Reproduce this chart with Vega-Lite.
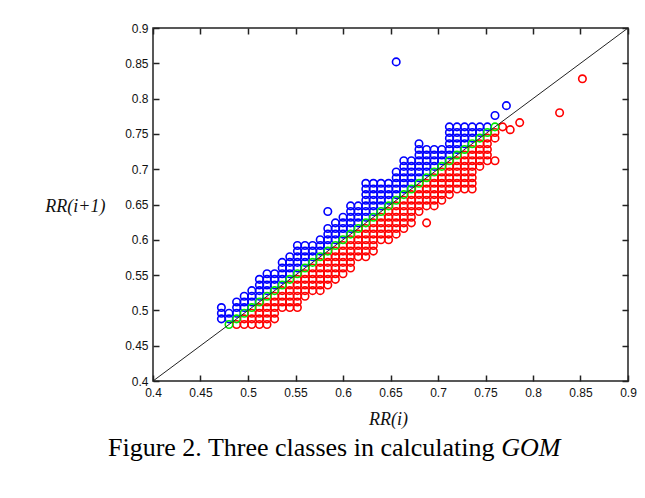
{
"$schema": "https://vega.github.io/schema/vega-lite/v6.json",
"width": 475, "height": 353,
"autosize": {"type": "none"},
"padding": {"left": 153, "top": 28, "right": 17, "bottom": 117},
"background": "white",
"config": {
  "view": {"stroke": "#222", "strokeWidth": 1.5},
  "axis": {"labelFont": "Liberation Sans", "labelFontSize": 12, "labelColor": "#111", "labelFlush": false, "labelOverlap": false,
           "ticks": true, "tickColor": "#222", "tickWidth": 1.5, "tickSize": 6, "offset": -6, "domain": false, "grid": false, "zindex": 2,
           "titleFont": "Liberation Serif", "titleFontStyle": "italic", "titleFontWeight": "normal", "titleFontSize": 18, "titleColor": "#111"}
},
"layer": [
{
 "data": {"values": [
{"x":0.472,"y":0.488,"c":"B"},{"x":0.472,"y":0.496,"c":"B"},{"x":0.472,"y":0.504,"c":"B"},
{"x":0.48,"y":0.488,"c":"B"},{"x":0.48,"y":0.496,"c":"B"},
{"x":0.488,"y":0.496,"c":"B"},{"x":0.488,"y":0.504,"c":"B"},{"x":0.488,"y":0.512,"c":"B"},
{"x":0.496,"y":0.504,"c":"B"},{"x":0.496,"y":0.512,"c":"B"},{"x":0.496,"y":0.52,"c":"B"},
{"x":0.504,"y":0.512,"c":"B"},{"x":0.504,"y":0.52,"c":"B"},{"x":0.504,"y":0.528,"c":"B"},
{"x":0.512,"y":0.52,"c":"B"},{"x":0.512,"y":0.528,"c":"B"},{"x":0.512,"y":0.536,"c":"B"},{"x":0.512,"y":0.544,"c":"B"},
{"x":0.52,"y":0.528,"c":"B"},{"x":0.52,"y":0.536,"c":"B"},{"x":0.52,"y":0.544,"c":"B"},{"x":0.52,"y":0.552,"c":"B"},
{"x":0.528,"y":0.536,"c":"B"},{"x":0.528,"y":0.544,"c":"B"},{"x":0.528,"y":0.552,"c":"B"},
{"x":0.536,"y":0.544,"c":"B"},{"x":0.536,"y":0.552,"c":"B"},{"x":0.536,"y":0.56,"c":"B"},{"x":0.536,"y":0.568,"c":"B"},
{"x":0.544,"y":0.552,"c":"B"},{"x":0.544,"y":0.56,"c":"B"},{"x":0.544,"y":0.568,"c":"B"},{"x":0.544,"y":0.576,"c":"B"},
{"x":0.552,"y":0.56,"c":"B"},{"x":0.552,"y":0.568,"c":"B"},{"x":0.552,"y":0.576,"c":"B"},{"x":0.552,"y":0.584,"c":"B"},{"x":0.552,"y":0.592,"c":"B"},
{"x":0.56,"y":0.568,"c":"B"},{"x":0.56,"y":0.576,"c":"B"},{"x":0.56,"y":0.584,"c":"B"},{"x":0.56,"y":0.592,"c":"B"},
{"x":0.568,"y":0.576,"c":"B"},{"x":0.568,"y":0.584,"c":"B"},{"x":0.568,"y":0.592,"c":"B"},
{"x":0.576,"y":0.584,"c":"B"},{"x":0.576,"y":0.592,"c":"B"},{"x":0.576,"y":0.6,"c":"B"},
{"x":0.584,"y":0.592,"c":"B"},{"x":0.584,"y":0.6,"c":"B"},{"x":0.584,"y":0.608,"c":"B"},{"x":0.584,"y":0.616,"c":"B"},{"x":0.584,"y":0.64,"c":"B"},
{"x":0.592,"y":0.6,"c":"B"},{"x":0.592,"y":0.608,"c":"B"},{"x":0.592,"y":0.616,"c":"B"},{"x":0.592,"y":0.624,"c":"B"},
{"x":0.6,"y":0.608,"c":"B"},{"x":0.6,"y":0.616,"c":"B"},{"x":0.6,"y":0.624,"c":"B"},{"x":0.6,"y":0.632,"c":"B"},
{"x":0.608,"y":0.616,"c":"B"},{"x":0.608,"y":0.624,"c":"B"},{"x":0.608,"y":0.632,"c":"B"},{"x":0.608,"y":0.64,"c":"B"},{"x":0.608,"y":0.648,"c":"B"},
{"x":0.616,"y":0.624,"c":"B"},{"x":0.616,"y":0.632,"c":"B"},{"x":0.616,"y":0.64,"c":"B"},{"x":0.616,"y":0.648,"c":"B"},
{"x":0.624,"y":0.632,"c":"B"},{"x":0.624,"y":0.64,"c":"B"},{"x":0.624,"y":0.648,"c":"B"},{"x":0.624,"y":0.656,"c":"B"},{"x":0.624,"y":0.664,"c":"B"},{"x":0.624,"y":0.672,"c":"B"},{"x":0.624,"y":0.68,"c":"B"},
{"x":0.632,"y":0.64,"c":"B"},{"x":0.632,"y":0.648,"c":"B"},{"x":0.632,"y":0.656,"c":"B"},{"x":0.632,"y":0.664,"c":"B"},{"x":0.632,"y":0.672,"c":"B"},{"x":0.632,"y":0.68,"c":"B"},
{"x":0.64,"y":0.648,"c":"B"},{"x":0.64,"y":0.656,"c":"B"},{"x":0.64,"y":0.664,"c":"B"},{"x":0.64,"y":0.672,"c":"B"},{"x":0.64,"y":0.68,"c":"B"},
{"x":0.648,"y":0.656,"c":"B"},{"x":0.648,"y":0.664,"c":"B"},{"x":0.648,"y":0.672,"c":"B"},{"x":0.648,"y":0.68,"c":"B"},
{"x":0.656,"y":0.664,"c":"B"},{"x":0.656,"y":0.672,"c":"B"},{"x":0.656,"y":0.68,"c":"B"},{"x":0.656,"y":0.688,"c":"B"},{"x":0.656,"y":0.696,"c":"B"},{"x":0.656,"y":0.852,"c":"B"},
{"x":0.664,"y":0.672,"c":"B"},{"x":0.664,"y":0.68,"c":"B"},{"x":0.664,"y":0.688,"c":"B"},{"x":0.664,"y":0.696,"c":"B"},{"x":0.664,"y":0.704,"c":"B"},{"x":0.664,"y":0.712,"c":"B"},
{"x":0.672,"y":0.68,"c":"B"},{"x":0.672,"y":0.688,"c":"B"},{"x":0.672,"y":0.696,"c":"B"},{"x":0.672,"y":0.704,"c":"B"},{"x":0.672,"y":0.712,"c":"B"},
{"x":0.68,"y":0.688,"c":"B"},{"x":0.68,"y":0.696,"c":"B"},{"x":0.68,"y":0.704,"c":"B"},{"x":0.68,"y":0.712,"c":"B"},{"x":0.68,"y":0.72,"c":"B"},{"x":0.68,"y":0.728,"c":"B"},{"x":0.68,"y":0.736,"c":"B"},
{"x":0.688,"y":0.696,"c":"B"},{"x":0.688,"y":0.704,"c":"B"},{"x":0.688,"y":0.712,"c":"B"},{"x":0.688,"y":0.72,"c":"B"},{"x":0.688,"y":0.728,"c":"B"},
{"x":0.696,"y":0.704,"c":"B"},{"x":0.696,"y":0.712,"c":"B"},{"x":0.696,"y":0.72,"c":"B"},{"x":0.696,"y":0.728,"c":"B"},
{"x":0.704,"y":0.712,"c":"B"},{"x":0.704,"y":0.72,"c":"B"},{"x":0.704,"y":0.728,"c":"B"},
{"x":0.712,"y":0.72,"c":"B"},{"x":0.712,"y":0.728,"c":"B"},{"x":0.712,"y":0.736,"c":"B"},{"x":0.712,"y":0.744,"c":"B"},{"x":0.712,"y":0.752,"c":"B"},{"x":0.712,"y":0.76,"c":"B"},
{"x":0.72,"y":0.728,"c":"B"},{"x":0.72,"y":0.736,"c":"B"},{"x":0.72,"y":0.744,"c":"B"},{"x":0.72,"y":0.752,"c":"B"},{"x":0.72,"y":0.76,"c":"B"},
{"x":0.728,"y":0.736,"c":"B"},{"x":0.728,"y":0.744,"c":"B"},{"x":0.728,"y":0.752,"c":"B"},{"x":0.728,"y":0.76,"c":"B"},
{"x":0.736,"y":0.744,"c":"B"},{"x":0.736,"y":0.752,"c":"B"},{"x":0.736,"y":0.76,"c":"B"},
{"x":0.744,"y":0.752,"c":"B"},{"x":0.744,"y":0.76,"c":"B"},
{"x":0.752,"y":0.76,"c":"B"},
{"x":0.76,"y":0.776,"c":"B"},{"x":0.772,"y":0.79,"c":"B"},
{"x":0.488,"y":0.48,"c":"R"},
{"x":0.496,"y":0.488,"c":"R"},{"x":0.496,"y":0.48,"c":"R"},
{"x":0.504,"y":0.496,"c":"R"},{"x":0.504,"y":0.488,"c":"R"},{"x":0.504,"y":0.48,"c":"R"},
{"x":0.512,"y":0.504,"c":"R"},{"x":0.512,"y":0.496,"c":"R"},{"x":0.512,"y":0.488,"c":"R"},{"x":0.512,"y":0.48,"c":"R"},
{"x":0.52,"y":0.512,"c":"R"},{"x":0.52,"y":0.504,"c":"R"},{"x":0.52,"y":0.496,"c":"R"},{"x":0.52,"y":0.488,"c":"R"},{"x":0.52,"y":0.48,"c":"R"},
{"x":0.528,"y":0.52,"c":"R"},{"x":0.528,"y":0.512,"c":"R"},{"x":0.528,"y":0.504,"c":"R"},{"x":0.528,"y":0.496,"c":"R"},{"x":0.528,"y":0.488,"c":"R"},
{"x":0.536,"y":0.528,"c":"R"},{"x":0.536,"y":0.52,"c":"R"},{"x":0.536,"y":0.512,"c":"R"},{"x":0.536,"y":0.504,"c":"R"},
{"x":0.544,"y":0.536,"c":"R"},{"x":0.544,"y":0.528,"c":"R"},{"x":0.544,"y":0.52,"c":"R"},{"x":0.544,"y":0.512,"c":"R"},{"x":0.544,"y":0.504,"c":"R"},
{"x":0.552,"y":0.544,"c":"R"},{"x":0.552,"y":0.536,"c":"R"},{"x":0.552,"y":0.528,"c":"R"},{"x":0.552,"y":0.52,"c":"R"},{"x":0.552,"y":0.512,"c":"R"},{"x":0.552,"y":0.504,"c":"R"},
{"x":0.56,"y":0.552,"c":"R"},{"x":0.56,"y":0.544,"c":"R"},{"x":0.56,"y":0.536,"c":"R"},{"x":0.56,"y":0.528,"c":"R"},{"x":0.56,"y":0.52,"c":"R"},
{"x":0.568,"y":0.56,"c":"R"},{"x":0.568,"y":0.552,"c":"R"},{"x":0.568,"y":0.544,"c":"R"},{"x":0.568,"y":0.536,"c":"R"},{"x":0.568,"y":0.528,"c":"R"},
{"x":0.576,"y":0.568,"c":"R"},{"x":0.576,"y":0.56,"c":"R"},{"x":0.576,"y":0.552,"c":"R"},{"x":0.576,"y":0.544,"c":"R"},{"x":0.576,"y":0.536,"c":"R"},{"x":0.576,"y":0.528,"c":"R"},
{"x":0.584,"y":0.576,"c":"R"},{"x":0.584,"y":0.568,"c":"R"},{"x":0.584,"y":0.56,"c":"R"},{"x":0.584,"y":0.552,"c":"R"},{"x":0.584,"y":0.544,"c":"R"},{"x":0.584,"y":0.536,"c":"R"},
{"x":0.592,"y":0.584,"c":"R"},{"x":0.592,"y":0.576,"c":"R"},{"x":0.592,"y":0.568,"c":"R"},{"x":0.592,"y":0.56,"c":"R"},{"x":0.592,"y":0.552,"c":"R"},{"x":0.592,"y":0.544,"c":"R"},
{"x":0.6,"y":0.592,"c":"R"},{"x":0.6,"y":0.584,"c":"R"},{"x":0.6,"y":0.576,"c":"R"},{"x":0.6,"y":0.568,"c":"R"},{"x":0.6,"y":0.56,"c":"R"},{"x":0.6,"y":0.552,"c":"R"},
{"x":0.608,"y":0.6,"c":"R"},{"x":0.608,"y":0.592,"c":"R"},{"x":0.608,"y":0.584,"c":"R"},{"x":0.608,"y":0.576,"c":"R"},{"x":0.608,"y":0.568,"c":"R"},{"x":0.608,"y":0.56,"c":"R"},
{"x":0.616,"y":0.608,"c":"R"},{"x":0.616,"y":0.6,"c":"R"},{"x":0.616,"y":0.592,"c":"R"},{"x":0.616,"y":0.584,"c":"R"},{"x":0.616,"y":0.576,"c":"R"},
{"x":0.624,"y":0.616,"c":"R"},{"x":0.624,"y":0.608,"c":"R"},{"x":0.624,"y":0.6,"c":"R"},{"x":0.624,"y":0.592,"c":"R"},{"x":0.624,"y":0.584,"c":"R"},{"x":0.624,"y":0.576,"c":"R"},
{"x":0.632,"y":0.624,"c":"R"},{"x":0.632,"y":0.616,"c":"R"},{"x":0.632,"y":0.608,"c":"R"},{"x":0.632,"y":0.6,"c":"R"},{"x":0.632,"y":0.592,"c":"R"},{"x":0.632,"y":0.584,"c":"R"},
{"x":0.64,"y":0.632,"c":"R"},{"x":0.64,"y":0.624,"c":"R"},{"x":0.64,"y":0.616,"c":"R"},{"x":0.64,"y":0.608,"c":"R"},{"x":0.64,"y":0.6,"c":"R"},
{"x":0.648,"y":0.64,"c":"R"},{"x":0.648,"y":0.632,"c":"R"},{"x":0.648,"y":0.624,"c":"R"},{"x":0.648,"y":0.616,"c":"R"},{"x":0.648,"y":0.608,"c":"R"},{"x":0.648,"y":0.6,"c":"R"},
{"x":0.656,"y":0.648,"c":"R"},{"x":0.656,"y":0.64,"c":"R"},{"x":0.656,"y":0.632,"c":"R"},{"x":0.656,"y":0.624,"c":"R"},{"x":0.656,"y":0.616,"c":"R"},{"x":0.656,"y":0.608,"c":"R"},
{"x":0.664,"y":0.656,"c":"R"},{"x":0.664,"y":0.648,"c":"R"},{"x":0.664,"y":0.64,"c":"R"},{"x":0.664,"y":0.632,"c":"R"},{"x":0.664,"y":0.624,"c":"R"},{"x":0.664,"y":0.616,"c":"R"},
{"x":0.672,"y":0.664,"c":"R"},{"x":0.672,"y":0.656,"c":"R"},{"x":0.672,"y":0.648,"c":"R"},{"x":0.672,"y":0.64,"c":"R"},{"x":0.672,"y":0.632,"c":"R"},{"x":0.672,"y":0.624,"c":"R"},
{"x":0.68,"y":0.672,"c":"R"},{"x":0.68,"y":0.664,"c":"R"},{"x":0.68,"y":0.656,"c":"R"},{"x":0.68,"y":0.648,"c":"R"},{"x":0.68,"y":0.64,"c":"R"},
{"x":0.688,"y":0.68,"c":"R"},{"x":0.688,"y":0.672,"c":"R"},{"x":0.688,"y":0.664,"c":"R"},{"x":0.688,"y":0.656,"c":"R"},{"x":0.688,"y":0.648,"c":"R"},{"x":0.688,"y":0.624,"c":"R"},
{"x":0.696,"y":0.688,"c":"R"},{"x":0.696,"y":0.68,"c":"R"},{"x":0.696,"y":0.672,"c":"R"},{"x":0.696,"y":0.664,"c":"R"},{"x":0.696,"y":0.656,"c":"R"},{"x":0.696,"y":0.648,"c":"R"},
{"x":0.704,"y":0.696,"c":"R"},{"x":0.704,"y":0.688,"c":"R"},{"x":0.704,"y":0.68,"c":"R"},{"x":0.704,"y":0.672,"c":"R"},{"x":0.704,"y":0.664,"c":"R"},{"x":0.704,"y":0.656,"c":"R"},
{"x":0.712,"y":0.704,"c":"R"},{"x":0.712,"y":0.696,"c":"R"},{"x":0.712,"y":0.688,"c":"R"},{"x":0.712,"y":0.68,"c":"R"},{"x":0.712,"y":0.672,"c":"R"},{"x":0.712,"y":0.664,"c":"R"},
{"x":0.72,"y":0.712,"c":"R"},{"x":0.72,"y":0.704,"c":"R"},{"x":0.72,"y":0.696,"c":"R"},{"x":0.72,"y":0.688,"c":"R"},{"x":0.72,"y":0.68,"c":"R"},{"x":0.72,"y":0.672,"c":"R"},
{"x":0.728,"y":0.72,"c":"R"},{"x":0.728,"y":0.712,"c":"R"},{"x":0.728,"y":0.704,"c":"R"},{"x":0.728,"y":0.696,"c":"R"},{"x":0.728,"y":0.688,"c":"R"},{"x":0.728,"y":0.68,"c":"R"},{"x":0.728,"y":0.672,"c":"R"},
{"x":0.736,"y":0.728,"c":"R"},{"x":0.736,"y":0.72,"c":"R"},{"x":0.736,"y":0.712,"c":"R"},{"x":0.736,"y":0.704,"c":"R"},{"x":0.736,"y":0.696,"c":"R"},{"x":0.736,"y":0.688,"c":"R"},{"x":0.736,"y":0.68,"c":"R"},{"x":0.736,"y":0.672,"c":"R"},
{"x":0.744,"y":0.736,"c":"R"},{"x":0.744,"y":0.728,"c":"R"},{"x":0.744,"y":0.72,"c":"R"},{"x":0.744,"y":0.712,"c":"R"},{"x":0.744,"y":0.704,"c":"R"},
{"x":0.752,"y":0.744,"c":"R"},{"x":0.752,"y":0.736,"c":"R"},{"x":0.752,"y":0.728,"c":"R"},{"x":0.752,"y":0.72,"c":"R"},{"x":0.752,"y":0.712,"c":"R"},
{"x":0.76,"y":0.752,"c":"R"},{"x":0.76,"y":0.744,"c":"R"},{"x":0.76,"y":0.712,"c":"R"},
{"x":0.768,"y":0.76,"c":"R"},{"x":0.776,"y":0.756,"c":"R"},{"x":0.786,"y":0.766,"c":"R"},{"x":0.828,"y":0.78,"c":"R"},{"x":0.852,"y":0.828,"c":"R"},
{"x":0.48,"y":0.48,"c":"G"},{"x":0.488,"y":0.488,"c":"G"},{"x":0.496,"y":0.496,"c":"G"},
{"x":0.504,"y":0.504,"c":"G"},{"x":0.512,"y":0.512,"c":"G"},
{"x":0.52,"y":0.52,"c":"G"},{"x":0.528,"y":0.528,"c":"G"},{"x":0.536,"y":0.536,"c":"G"},
{"x":0.544,"y":0.544,"c":"G"},{"x":0.552,"y":0.552,"c":"G"},
{"x":0.56,"y":0.56,"c":"G"},{"x":0.568,"y":0.568,"c":"G"},{"x":0.576,"y":0.576,"c":"G"},
{"x":0.584,"y":0.584,"c":"G"},{"x":0.592,"y":0.592,"c":"G"},
{"x":0.6,"y":0.6,"c":"G"},{"x":0.608,"y":0.608,"c":"G"},{"x":0.616,"y":0.616,"c":"G"},
{"x":0.624,"y":0.624,"c":"G"},{"x":0.632,"y":0.632,"c":"G"},
{"x":0.64,"y":0.64,"c":"G"},{"x":0.648,"y":0.648,"c":"G"},{"x":0.656,"y":0.656,"c":"G"},
{"x":0.664,"y":0.664,"c":"G"},{"x":0.672,"y":0.672,"c":"G"},
{"x":0.68,"y":0.68,"c":"G"},{"x":0.688,"y":0.688,"c":"G"},{"x":0.696,"y":0.696,"c":"G"},
{"x":0.704,"y":0.704,"c":"G"},{"x":0.712,"y":0.712,"c":"G"},
{"x":0.72,"y":0.72,"c":"G"},{"x":0.728,"y":0.728,"c":"G"},{"x":0.736,"y":0.736,"c":"G"},
{"x":0.744,"y":0.744,"c":"G"},{"x":0.752,"y":0.752,"c":"G"},
{"x":0.76,"y":0.76,"c":"G"}
 ]},
 "mark": {"type": "point", "filled": false, "strokeWidth": 1.6, "opacity": 1},
 "encoding": {
  "x": {"field": "x", "type": "quantitative", "scale": {"domain": [0.4, 0.9], "nice": false, "zero": false},
        "axis": {"orient": "bottom", "values": [0.4,0.45,0.5,0.55,0.6,0.65,0.7,0.75,0.8,0.85,0.9], "format": "~g", "labelPadding": 6,
                 "title": "RR(i)", "titleX": 235, "titleY": 49, "titleAlign": "center", "titleBaseline": "alphabetic"}},
  "y": {"field": "y", "type": "quantitative", "scale": {"domain": [0.4, 0.9], "nice": false, "zero": false},
        "axis": {"orient": "left", "values": [0.4,0.45,0.5,0.55,0.6,0.65,0.7,0.75,0.8,0.85,0.9], "format": "~g", "labelPadding": 5,
                 "title": "RR(i+1)", "titleAngle": 0, "titleX": -54, "titleY": 178, "titleAlign": "right", "titleBaseline": "middle"}},
  "color": {"field": "c", "type": "nominal", "sort": null, "scale": {"domain": ["B", "R", "G"], "range": ["#0000ff", "#ff0000", "#00e600"]}, "legend": null},
  "size": {"field": "c", "type": "nominal", "scale": {"domain": ["B", "R", "G"], "range": [56, 56, 40]}, "legend": null}
 }
},
{
 "data": {"values": [{"x": 0.4, "y": 0.4}, {"x": 0.9, "y": 0.9}]},
 "mark": {"type": "line", "color": "#222", "strokeWidth": 1},
 "encoding": {
  "x": {"field": "x", "type": "quantitative", "scale": {"domain": [0.4, 0.9], "nice": false, "zero": false},
        "axis": {"orient": "top", "values": [0.4,0.45,0.5,0.55,0.6,0.65,0.7,0.75,0.8,0.85,0.9], "labels": false,
                 "title": "Figure 2. Three classes in calculating", "titleX": 341, "titleY": 421, "titleAlign": "right", "titleBaseline": "alphabetic",
                 "titleFontStyle": "normal", "titleFontSize": 26, "titleColor": "#000"}},
  "y": {"field": "y", "type": "quantitative", "scale": {"domain": [0.4, 0.9], "nice": false, "zero": false},
        "axis": {"orient": "right", "values": [0.4,0.45,0.5,0.55,0.6,0.65,0.7,0.75,0.8,0.85,0.9], "labels": false,
                 "title": "GOM", "titleAngle": 0, "titleX": -62, "titleY": 427, "titleAlign": "right", "titleBaseline": "alphabetic",
                 "titleFontStyle": "italic", "titleFontSize": 26, "titleColor": "#000"}}
 }
}
],
"resolve": {"axis": {"x": "independent", "y": "independent"}}
}
